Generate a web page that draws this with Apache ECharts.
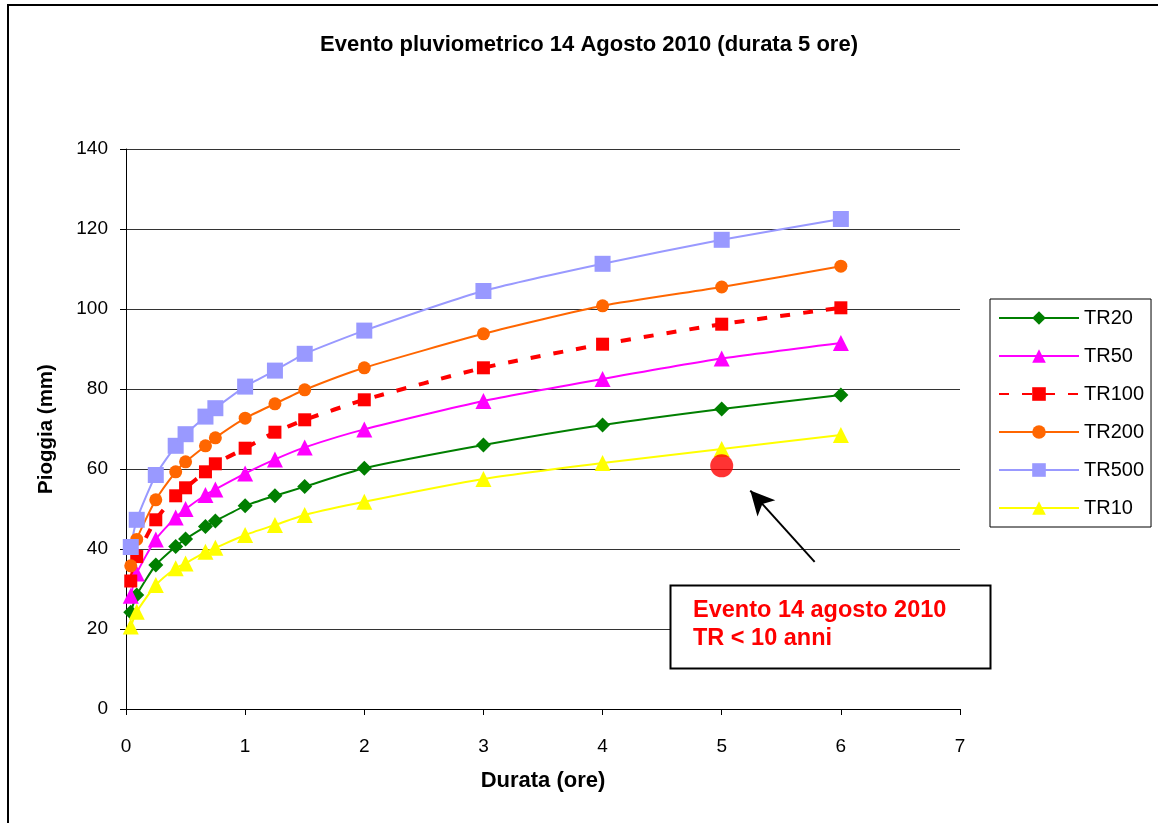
<!DOCTYPE html>
<html>
<head>
<meta charset="utf-8">
<script src="https://cdn.jsdelivr.net/npm/echarts@6.0.0/dist/echarts.min.js"></script>
<style>
  html, body { margin: 0; padding: 0; background: #fff; }
  #chart { width: 1158px; height: 823px; }
</style>
</head>
<body>
<div id="chart"></div>
<script>
// durata (ore)
const durations = [0.04, 0.09, 0.25, 0.417, 0.5, 0.667, 0.75, 1, 1.25, 1.5, 2, 3, 4, 5, 6];

// pioggia (mm) per tempo di ritorno
const tr20  = [24.2, 28.5, 36.0, 40.6, 42.5, 45.6, 47.0, 50.8, 53.3, 55.6, 60.2, 66.0, 71.0, 75.0, 78.5];
const tr50  = [28.3, 33.9, 42.4, 47.9, 50.0, 53.5, 54.9, 58.9, 62.4, 65.4, 69.9, 77.0, 82.5, 87.6, 91.5];
const tr100 = [32.0, 38.1, 47.3, 53.3, 55.3, 59.3, 61.3, 65.2, 69.2, 72.3, 77.3, 85.3, 91.2, 96.2, 100.3];
const tr200 = [35.8, 42.4, 52.3, 59.3, 61.8, 65.8, 67.8, 72.7, 76.3, 79.8, 85.3, 93.8, 100.8, 105.5, 110.7];
const tr500 = [40.5, 47.3, 58.5, 65.8, 68.7, 73.1, 75.2, 80.6, 84.6, 88.8, 94.6, 104.5, 111.3, 117.3, 122.5];
const tr10  = [20.6, 24.3, 31.0, 35.2, 36.4, 39.3, 40.3, 43.5, 46.0, 48.5, 51.8, 57.5, 61.5, 65.0, 68.5];

// evento osservato: 5 ore, ~61 mm
const evento = [[5, 60.8]];
const arrowFrom = [5.78, 36.8];
const arrowTo = [5.24, 54.6];

const yTicks = [0, 20, 40, 60, 80, 100, 120, 140];
const xTicks = [0, 1, 2, 3, 4, 5, 6, 7];

const FONT = '"Liberation Sans", Arial, sans-serif';

const pairs = v => durations.map((d, i) => [d, v[i]]);

function line(name, data, color, symbol, size, extra) {
  return Object.assign({
    name: name,
    type: 'line',
    data: pairs(data),
    smooth: 0.2,
    symbol: symbol,
    symbolSize: size,
    itemStyle: { color: color },
    lineStyle: { color: color, width: 2 },
    z: 3
  }, extra || {});
}

const chart = echarts.init(document.getElementById('chart'));
chart.setOption({
  animation: false,
  backgroundColor: '#fff',
  title: {
    text: 'Evento pluviometrico 14 Agosto 2010 (durata 5 ore)',
    left: 584,
    textAlign: 'center',
    top: 29,
    textStyle: { fontFamily: FONT, fontSize: 22, fontWeight: 'bold', color: '#000' }
  },
  grid: { left: 126, right: 198, top: 149, bottom: 114 },
  legend: {
    orient: 'vertical',
    left: 990,
    top: 299,
    padding: [9, 7, 9, 8],
    itemWidth: 80,
    itemHeight: 17,
    itemGap: 18,
    borderColor: '#000',
    borderWidth: 1,
    borderRadius: 0,
    textStyle: { fontFamily: FONT, fontSize: 20, color: '#000' },
    data: ['TR20', 'TR50', 'TR100', 'TR200', 'TR500', 'TR10']
  },
  xAxis: {
    type: 'value',
    min: xTicks[0],
    max: xTicks[xTicks.length - 1],
    interval: 1,
    name: 'Durata (ore)',
    nameLocation: 'middle',
    nameGap: 61,
    nameTextStyle: { fontFamily: FONT, fontSize: 22, fontWeight: 'bold', color: '#000' },
    axisLine: { lineStyle: { color: '#000', width: 1 } },
    axisTick: { length: 6, lineStyle: { color: '#000' } },
    axisLabel: { margin: 28, fontFamily: FONT, fontSize: 19, color: '#000' },
    splitLine: { show: false }
  },
  yAxis: {
    type: 'value',
    min: yTicks[0],
    max: yTicks[yTicks.length - 1],
    interval: 20,
    name: 'Pioggia (mm)',
    nameLocation: 'middle',
    nameGap: 69,
    nameTextStyle: { fontFamily: FONT, fontSize: 20.5, fontWeight: 'bold', color: '#000' },
    axisLine: { show: true, lineStyle: { color: '#000', width: 1 } },
    axisTick: { show: true, length: 6, lineStyle: { color: '#000' } },
    axisLabel: { margin: 18, fontFamily: FONT, fontSize: 19, color: '#000' },
    splitLine: { lineStyle: { color: '#333', width: 1 } }
  },
  series: [
    line('TR20', tr20, '#007F00', 'diamond', 15),
    line('TR50', tr50, '#FF00FF', 'triangle', 16),
    line('TR100', tr100, '#FF0000', 'rect', 13, {
      lineStyle: { color: '#FF0000', width: 4, type: [10, 13] }
    }),
    line('TR200', tr200, '#FF6600', 'circle', 13),
    line('TR500', tr500, '#9999FF', 'rect', 16),
    line('TR10', tr10, '#FFFF00', 'triangle', 16),
    {
      name: 'Evento',
      type: 'scatter',
      data: evento,
      symbol: 'circle',
      symbolSize: 23,
      itemStyle: { color: '#FF0000' },
      z: 5,
      markLine: {
        silent: true,
        symbol: ['none', 'arrow'],
        symbolSize: [18, 24],
        label: { show: false },
        lineStyle: { color: '#000', width: 2, type: 'solid' },
        data: [[{ coord: arrowFrom }, { coord: arrowTo }]]
      }
    }
  ],
  graphic: [
    {
      type: 'rect',
      shape: { x: 8, y: 5, width: 1300, height: 1000 },
      style: { fill: 'none', stroke: '#000', lineWidth: 2 },
      silent: true
    },
    {
      type: 'rect',
      shape: { x: 670.5, y: 585.5, width: 320, height: 83 },
      style: { fill: '#fff', stroke: '#000', lineWidth: 2 },
      z: 10
    },
    {
      type: 'text',
      left: 693,
      top: 597,
      z: 11,
      style: {
        text: 'Evento 14 agosto 2010\nTR < 10 anni',
        fill: '#FF0000',
        font: 'bold 23.5px ' + FONT,
        lineHeight: 28
      }
    }
  ]
});
window.addEventListener('resize', () => chart.resize());
</script>
</body>
</html>
